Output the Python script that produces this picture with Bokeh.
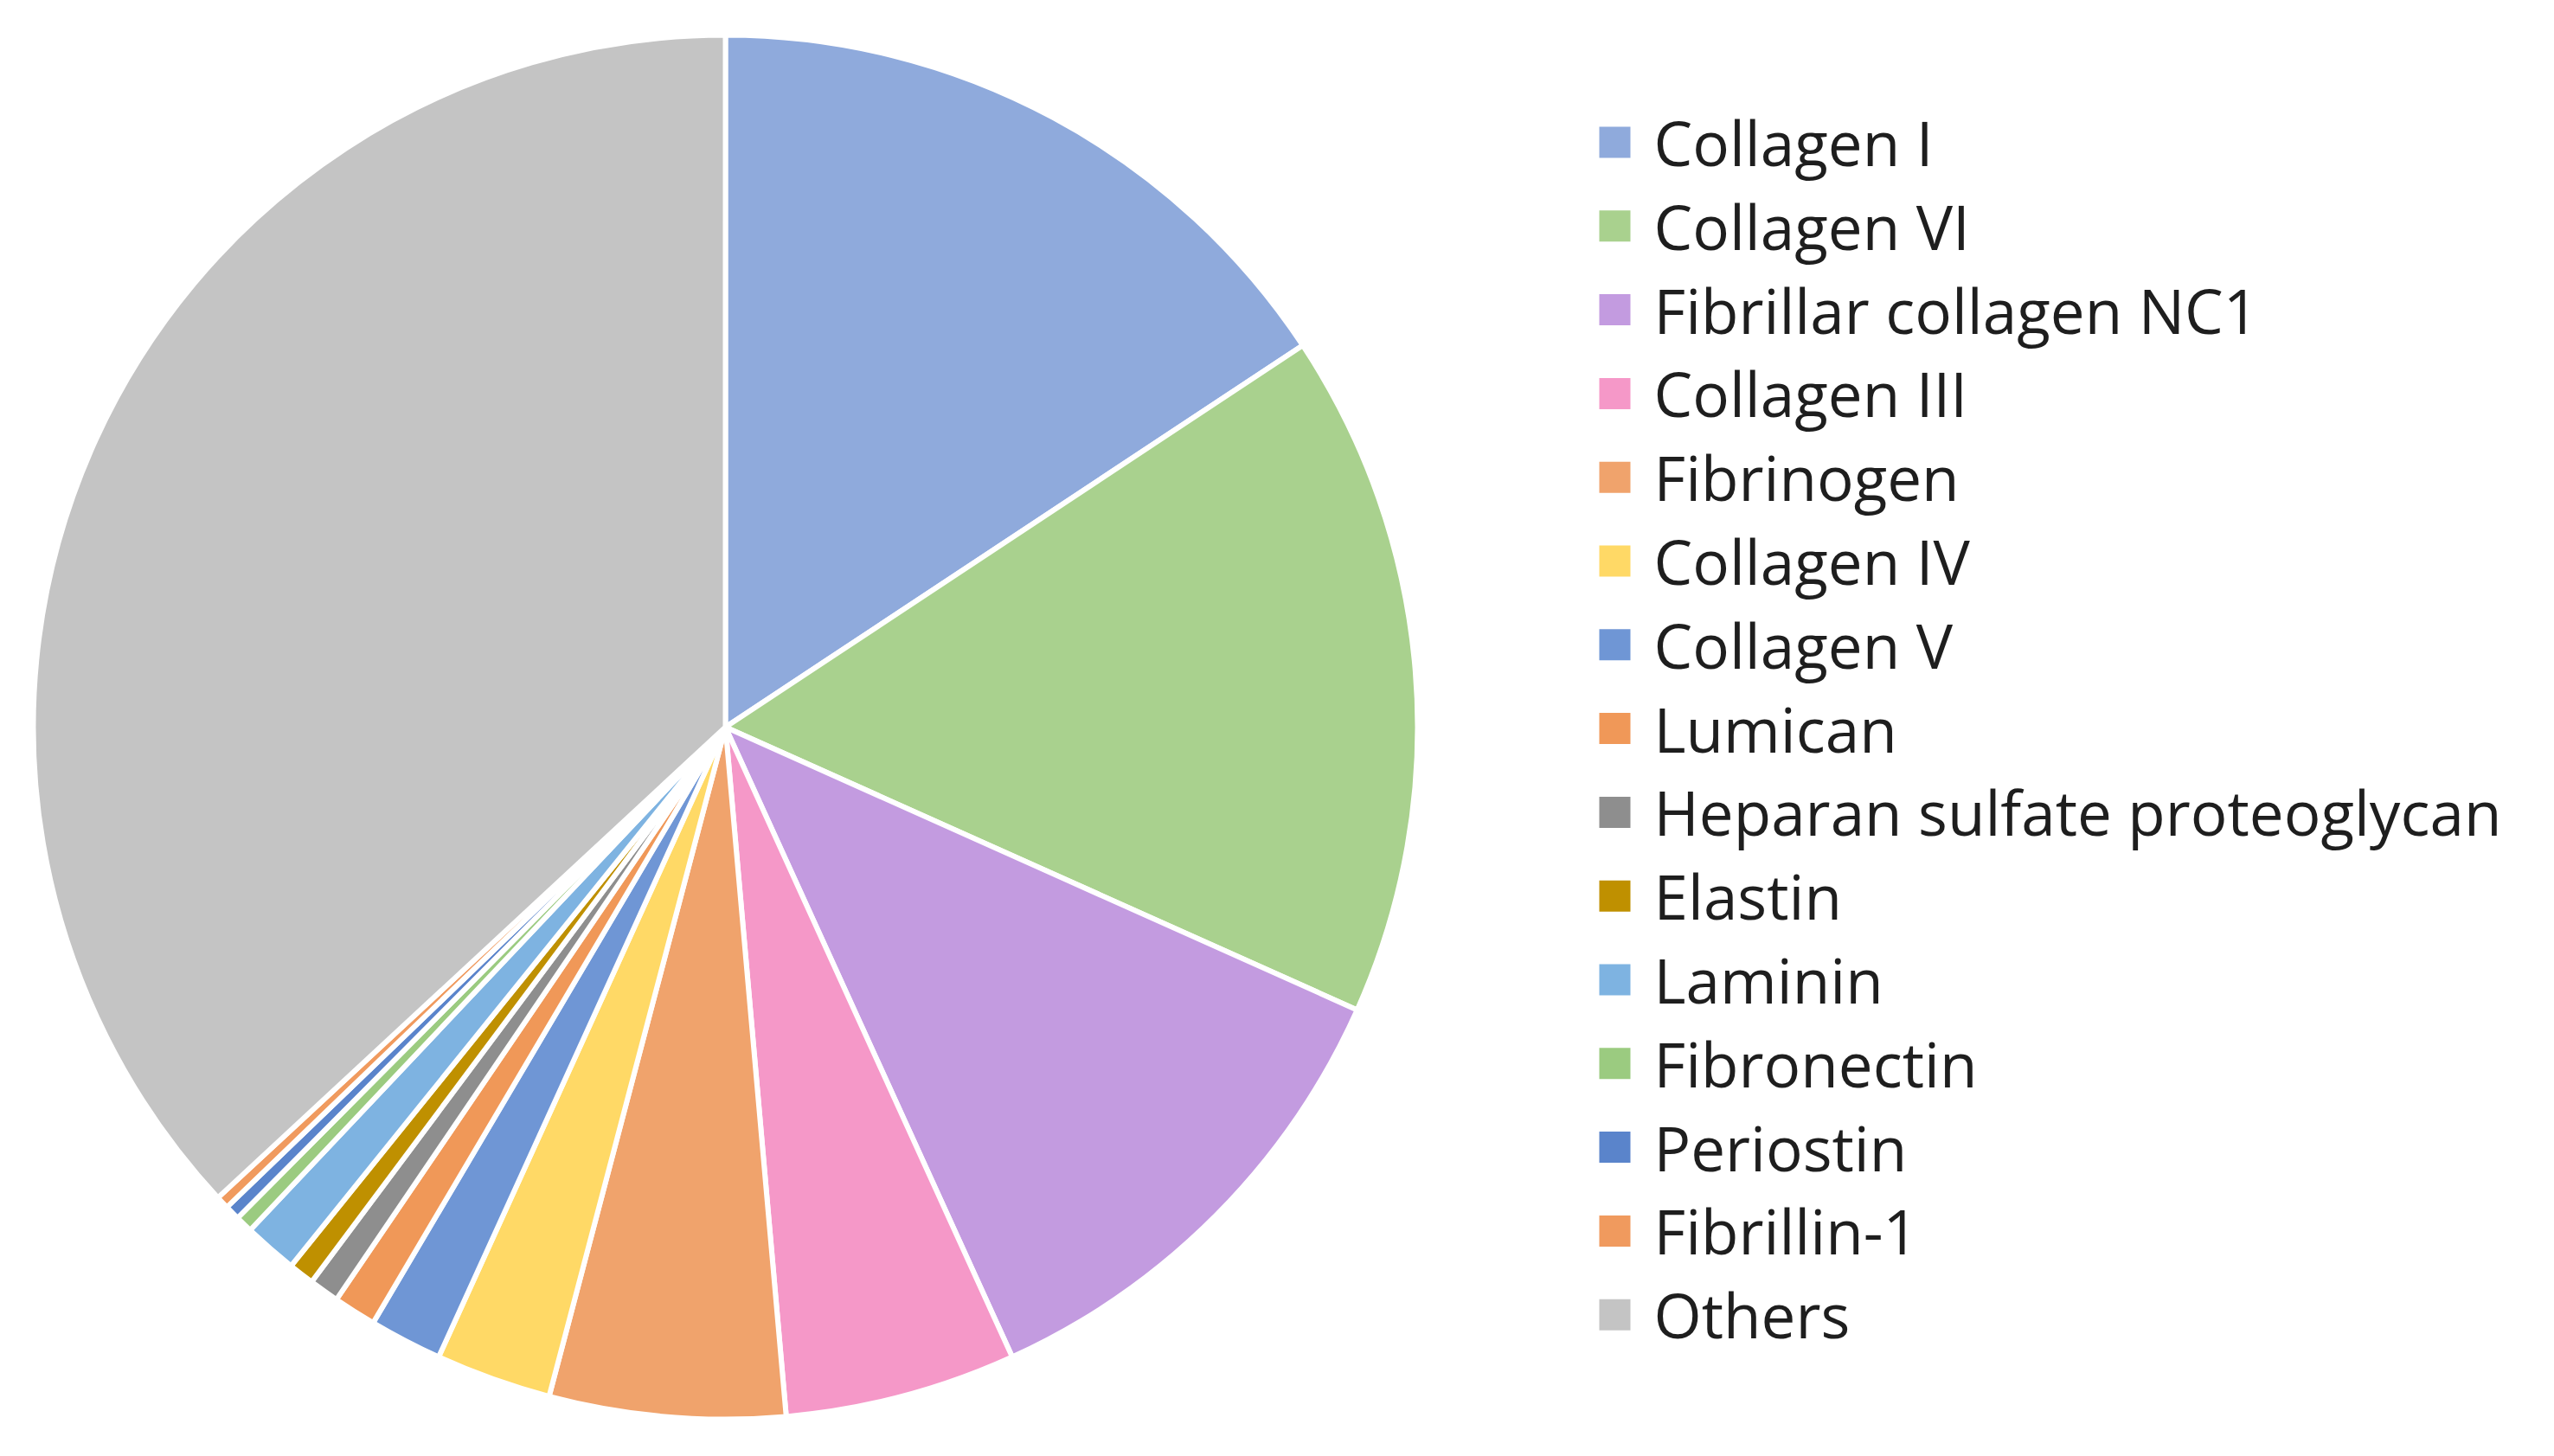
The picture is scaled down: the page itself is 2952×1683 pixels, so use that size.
from bokeh.plotting import figure
from bokeh.models import Range1d, ColumnDataSource
from bokeh.embed import file_html
from bokeh.resources import INLINE
from bokeh.core.properties import value
import math

# ---- data ----
categories = ["Collagen I", "Collagen VI", "Fibrillar collagen NC1", "Collagen III",
              "Fibrinogen", "Collagen IV", "Collagen V", "Lumican",
              "Heparan sulfate proteoglycan", "Elastin", "Laminin", "Fibronectin",
              "Periostin", "Fibrillin-1", "Others"]
percent = [15.7, 16.0, 11.5, 5.4, 5.5, 2.7, 1.7, 1.0, 0.7, 0.6, 1.25, 0.4, 0.35, 0.3, 36.9]
colors = ["#8FAADC", "#A9D18E", "#C39BE0", "#F598C8", "#F0A36C", "#FFD966",
          "#6F96D5", "#F09858", "#8E8E8E", "#BF9000", "#7EB3E1", "#9BCB80",
          "#5A84CB", "#F09A5E", "#C4C4C4"]

W, H = 2936, 1667
# data coords: x = reference pixel X, y = 1683 - reference pixel Y
p = figure(width=W, height=H, output_backend="svg", toolbar_location=None,
           x_range=Range1d(0, W), y_range=Range1d(1683 - H, 1683),
           min_border=0, outline_line_color=None)
p.axis.visible = False
p.grid.visible = False
p.background_fill_color = "white"

cx, cy, r = 838, 1683 - 840, 800
total = sum(percent)
starts, ends = [], []
cum = 0.0
for v in percent:
    a = cum / total * 2 * math.pi
    cum += v
    b = cum / total * 2 * math.pi
    starts.append(math.pi / 2 - b)
    ends.append(math.pi / 2 - a)

src = ColumnDataSource(dict(start=starts, end=ends, color=colors, cat=categories))
p.wedge(x=cx, y=cy, radius=r, start_angle="start", end_angle="end",
        fill_color="color", line_color="white", line_width=6, source=src)

# legend
lx_sq, lx_txt = 1866, 1911
ly0, dy = 164, 96.8
ys = [1683 - (ly0 + i * dy) for i in range(len(categories))]
lsrc = ColumnDataSource(dict(x=[lx_sq] * len(categories), tx=[lx_txt] * len(categories),
                             y=ys, color=colors, cat=categories))
p.scatter(x="x", y="y", marker="square", size=36, fill_color="color",
          line_color=None, source=lsrc)
p.text(x="tx", y="y", text="cat", text_font=value("Open Sans"), text_font_size="71px",
       text_baseline="middle", text_align="left", text_color="#1E1E1E", source=lsrc)

open("out.html", "w").write(file_html(p, INLINE))
